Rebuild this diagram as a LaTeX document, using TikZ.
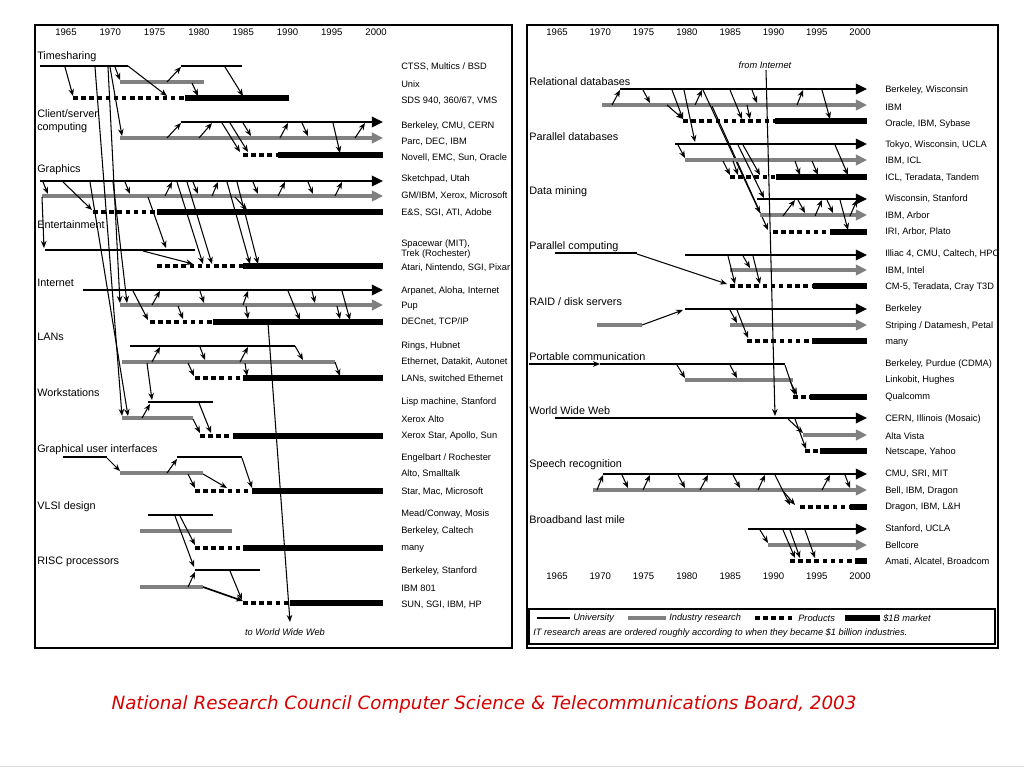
\documentclass[tikz,border=0pt]{standalone}
\usepackage{fontspec}
\setmainfont{Liberation Sans}
\newfontfamily\capfont{DejaVu Sans}
\usepackage{tikz}
\usetikzlibrary{arrows.meta,positioning}
\definecolor{trgray}{RGB}{128,128,128}
\definecolor{trred}{RGB}{215,0,0}
\tikzstyle{univ} = [line width=1.3pt, black]
\tikzstyle{indus} = [line width=2.2pt, trgray]
\tikzstyle{prod} = [line width=3.3pt, black, dash pattern=on 3.2pt off 2.6pt]
\tikzstyle{market} = [line width=4.6pt, black]
\tikzstyle{univtip} = [univ, -{Triangle[length=8pt,width=7.5pt]}]
\tikzstyle{industip} = [indus, -{Triangle[length=8pt,width=7.5pt]}]
\tikzstyle{lnk} = [->, >={Stealth[length=5pt,width=4pt]}, line width=0.75pt]
\tikzstyle{area} = [anchor=west, inner sep=0pt, align=left, font=\fontsize{7.7}{9}\selectfont]
\tikzstyle{who} = [anchor=west, inner sep=0pt, align=left, font=\fontsize{6.6}{7.6}\selectfont]
\tikzstyle{yr} = [inner sep=0pt, font=\fontsize{6.8}{7}\selectfont]
\tikzstyle{note} = [inner sep=0pt, font=\fontsize{6.6}{7}\selectfont\itshape]

\begin{document}
\begin{tikzpicture}[x=0.025cm, y=-0.025cm]
\useasboundingbox (0,0) rectangle (1024,768);
\fill[white] (0,0) rectangle (1024,768);
\draw[black!15] (0,766) -- (1024,766);

% Panels
\draw[line width=0.8pt] (35,25) rectangle (512,648);
\draw[line width=0.8pt] (527,25) rectangle (998,648);

% Years
\foreach \yr [count=\i from 0] in {1965,1970,...,2000} {
  \node[yr] (ly\yr) at ({66+\i*44.3},32) {\yr};
  \node[yr] (ry\yr) at ({557+\i*43.3},32) {\yr};
  \node[yr] (by\yr) at ({557+\i*43.3},576) {\yr};
}

% ---------------- left panel ----------------
% Area names
\node[area] (ts) at (37,57) {Timesharing};
\node[area] (cs) at (37,121) {Client/server\\computing};
\node[area] (gr) at (37,170) {Graphics};
\node[area] (en) at (37,225) {Entertainment};
\node[area] (in) at (37,283) {Internet};
\node[area] (ln) at (37,337) {LANs};
\node[area] (ws) at (37,393) {Workstations};
\node[area] (gu) at (37,450) {Graphical user interfaces};
\node[area] (vl) at (37,507) {VLSI design};
\node[area] (rs) at (37,562) {RISC processors};

% Who did it
\node[who] (tsU) at (401,67) {CTSS, Multics / BSD};
\node[who] (tsI) at (401,84) {Unix};
\node[who] (tsP) at (401,101) {SDS 940, 360/67, VMS};
\node[who] (csU) at (401,126) {Berkeley, CMU, CERN};
\node[who] (csI) at (401,142) {Parc, DEC, IBM};
\node[who] (csP) at (401,158) {Novell, EMC, Sun, Oracle};
\node[who] (grU) at (401,179) {Sketchpad, Utah};
\node[who] (grI) at (401,196) {GM/IBM, Xerox, Microsoft};
\node[who] (grP) at (401,213) {E\&S, SGI, ATI, Adobe};
\node[who] (enU) at (401,249) {Spacewar (MIT),\\Trek (Rochester)};
\node[who] (enP) at (401,268) {Atari, Nintendo, SGI, Pixar};
\node[who] (inU) at (401,291) {Arpanet, Aloha, Internet};
\node[who] (inI) at (401,306) {Pup};
\node[who] (inP) at (401,322) {DECnet, TCP/IP};
\node[who] (lnU) at (401,346) {Rings, Hubnet};
\node[who] (lnI) at (401,362) {Ethernet, Datakit, Autonet};
\node[who] (lnP) at (401,379) {LANs, switched Ethernet};
\node[who] (wsU) at (401,402) {Lisp machine, Stanford};
\node[who] (wsI) at (401,419) {Xerox Alto};
\node[who] (wsP) at (401,436) {Xerox Star, Apollo, Sun};
\node[who] (guU) at (401,458) {Engelbart / Rochester};
\node[who] (guI) at (401,474) {Alto, Smalltalk};
\node[who] (guP) at (401,492) {Star, Mac, Microsoft};
\node[who] (vlU) at (401,514) {Mead/Conway, Mosis};
\node[who] (vlI) at (401,531) {Berkeley, Caltech};
\node[who] (vlP) at (401,549) {many};
\node[who] (rsU) at (401,571) {Berkeley, Stanford};
\node[who] (rsI) at (401,588) {IBM 801};
\node[who] (rsP) at (401,605) {SUN, SGI, IBM, HP};
\node[note] (toweb) at (285,632) {to World Wide Web};

% Timesharing
\draw[univ] (40,66) -- (128,66);
\draw[univ] (181,66) -- (242,66);
\draw[indus] (120,82) -- (204,82);
\draw[prod] (73,98) -- (185,98);
\draw[market] (185,98) -- (289,98);
\draw[lnk] (65,67) -- (73,96);
\draw[lnk] (115,67) -- (120,80);
\draw[lnk] (128,66) -- (167,96);
\draw[lnk] (167,82) -- (181,67);
\draw[lnk] (192,83) -- (198,96);
\draw[lnk] (225,67) -- (243,96);

% Client/server
\draw[univtip] (181,122) -- (383,122);
\draw[industip] (120,138) -- (383,138);
\draw[prod] (243,155) -- (278,155);
\draw[market] (278,155) -- (383,155);
\draw[lnk] (167,138) -- (181,123);
\draw[lnk] (199,138) -- (212,123);
\draw[lnk] (222,123) -- (240,152);
\draw[lnk] (230,123) -- (248,152);
\draw[lnk] (243,123) -- (251,136);
\draw[lnk] (280,138) -- (288,123);
\draw[lnk] (302,123) -- (308,136);
\draw[lnk] (333,123) -- (340,153);
\draw[lnk] (355,138) -- (365,123);

% Graphics
\draw[univtip] (40,181) -- (383,181);
\draw[industip] (42,196) -- (383,196);
\draw[prod] (93,212) -- (157,212);
\draw[market] (157,212) -- (383,212);
\draw[lnk] (43,182) -- (48,194);
\draw[lnk] (63,182) -- (92,210);
\draw[lnk] (125,182) -- (130,194);
\draw[lnk] (165,196) -- (172,182);
\draw[lnk] (193,182) -- (198,194);
\draw[lnk] (212,196) -- (218,182);
\draw[lnk] (235,197) -- (247,210);
\draw[lnk] (253,182) -- (258,194);
\draw[lnk] (278,196) -- (285,182);
\draw[lnk] (308,182) -- (313,194);
\draw[lnk] (335,196) -- (342,182);

% Entertainment
\draw[univ] (45,250) -- (195,250);
\draw[prod] (157,266) -- (243,266);
\draw[market] (243,266) -- (383,266);
\draw[lnk] (42,197) -- (44,248);
\draw[lnk] (148,197) -- (166,248);
\draw[lnk] (143,251) -- (193,264);
\draw[lnk] (177,182) -- (203,264);
\draw[lnk] (187,182) -- (212,264);
\draw[lnk] (227,182) -- (250,264);
\draw[lnk] (237,182) -- (258,264);

% Internet
\draw[univtip] (83,290) -- (383,290);
\draw[industip] (120,305) -- (383,305);
\draw[prod] (150,322) -- (213,322);
\draw[market] (213,322) -- (383,322);
\draw[lnk] (133,291) -- (148,320);
\draw[lnk] (152,305) -- (160,291);
\draw[lnk] (200,291) -- (204,303);
\draw[lnk] (178,306) -- (183,319);
\draw[lnk] (243,305) -- (248,291);
\draw[lnk] (246,306) -- (248,319);
\draw[lnk] (288,291) -- (300,320);
\draw[lnk] (312,291) -- (315,303);
\draw[lnk] (337,306) -- (340,319);
\draw[lnk] (342,291) -- (350,320);

% LANs
\draw[univ] (130,346) -- (295,346);
\draw[indus] (122,362) -- (335,362);
\draw[prod] (195,378) -- (243,378);
\draw[market] (243,378) -- (383,378);
\draw[lnk] (295,346) -- (303,360);
\draw[lnk] (335,362) -- (340,376);
\draw[lnk] (152,362) -- (160,347);
\draw[lnk] (200,347) -- (205,360);
\draw[lnk] (240,362) -- (248,347);
\draw[lnk] (188,363) -- (194,376);
\draw[lnk] (245,363) -- (247,376);

% Workstations
\draw[univ] (148,402) -- (213,402);
\draw[indus] (122,418) -- (193,418);
\draw[prod] (200,436) -- (233,436);
\draw[market] (233,436) -- (383,436);
\draw[lnk] (147,363) -- (152,400);
\draw[lnk] (142,418) -- (150,404);
\draw[lnk] (199,403) -- (211,433);
\draw[lnk] (193,419) -- (200,433);

% Graphical user interfaces
\draw[univ] (63,457) -- (107,457);
\draw[univ] (177,457) -- (242,457);
\draw[indus] (120,473) -- (203,473);
\draw[prod] (195,491) -- (252,491);
\draw[market] (252,491) -- (383,491);
\draw[lnk] (107,458) -- (120,471);
\draw[lnk] (242,458) -- (252,488);
\draw[lnk] (167,473) -- (177,459);
\draw[lnk] (188,474) -- (195,488);
\draw[lnk] (203,474) -- (227,488);

% VLSI design
\draw[univ] (148,515) -- (213,515);
\draw[indus] (140,531) -- (232,531);
\draw[prod] (195,548) -- (243,548);
\draw[market] (243,548) -- (383,548);
\draw[lnk] (180,516) -- (195,545);
\draw[lnk] (175,516) -- (194,567);

% RISC processors
\draw[univ] (195,570) -- (260,570);
\draw[indus] (140,587) -- (203,587);
\draw[prod] (243,603) -- (290,603);
\draw[market] (290,603) -- (383,603);
\draw[lnk] (188,587) -- (195,572);
\draw[lnk, line width=1.2pt] (203,587) -- (243,601);
\draw[lnk] (230,571) -- (242,600);

% Long links
\draw[lnk] (95,67) -- (122,416);
\draw[lnk] (108,67) -- (120,303);
\draw[lnk] (110,67) -- (122,136);
\draw[lnk] (90,182) -- (128,416);
\draw[lnk] (113,182) -- (127,303);
\draw[lnk] (268,323) -- (290,622);

% ---------------- right panel ----------------
% Area names
\node[area] (rd) at (529,82) {Relational databases};
\node[area] (pd) at (529,137) {Parallel databases};
\node[area] (dm) at (529,192) {Data mining};
\node[area] (pc) at (529,247) {Parallel computing};
\node[area] (rv) at (529,302) {RAID / disk servers};
\node[area] (pt) at (529,357) {Portable communication};
\node[area] (ww) at (529,411) {World Wide Web};
\node[area] (sp) at (529,465) {Speech recognition};
\node[area] (bb) at (529,520) {Broadband last mile};

% Who did it
\node[who] (rdU) at (885,90) {Berkeley, Wisconsin};
\node[who] (rdI) at (885,107) {IBM};
\node[who] (rdP) at (885,124) {Oracle, IBM, Sybase};
\node[who] (pdU) at (885,145) {Tokyo, Wisconsin, UCLA};
\node[who] (pdI) at (885,161) {IBM, ICL};
\node[who] (pdP) at (885,178) {ICL, Teradata, Tandem};
\node[who] (dmU) at (885,199) {Wisconsin, Stanford};
\node[who] (dmI) at (885,216) {IBM, Arbor};
\node[who] (dmP) at (885,232) {IRI, Arbor, Plato};
\node[who] (pcU) at (885,254) {Illiac 4, CMU, Caltech, HPC};
\node[who] (pcI) at (885,271) {IBM, Intel};
\node[who] (pcP) at (885,287) {CM-5, Teradata, Cray T3D};
\node[who] (rvU) at (885,309) {Berkeley};
\node[who] (rvI) at (885,326) {Striping / Datamesh, Petal};
\node[who] (rvP) at (885,343) {many};
\node[who] (ptU) at (885,364) {Berkeley, Purdue (CDMA)};
\node[who] (ptI) at (885,380) {Linkobit, Hughes};
\node[who] (ptP) at (885,397) {Qualcomm};
\node[who] (wwU) at (885,419) {CERN, Illinois (Mosaic)};
\node[who] (wwI) at (885,436) {Alta Vista};
\node[who] (wwP) at (885,452) {Netscape, Yahoo};
\node[who] (spU) at (885,474) {CMU, SRI, MIT};
\node[who] (spI) at (885,491) {Bell, IBM, Dragon};
\node[who] (spP) at (885,507) {Dragon, IBM, L\&H};
\node[who] (bbU) at (885,529) {Stanford, UCLA};
\node[who] (bbI) at (885,545) {Bellcore};
\node[who] (bbP) at (885,562) {Amati, Alcatel, Broadcom};
\node[note] (fromnet) at (765,65) {from Internet};

% Relational databases
\draw[univtip] (620,89) -- (867,89);
\draw[industip] (602,105) -- (867,105);
\draw[prod] (683,121) -- (775,121);
\draw[market] (775,121) -- (867,121);
\draw[lnk] (612,105) -- (620,90);
\draw[lnk] (643,90) -- (650,103);
\draw[lnk] (667,105) -- (683,119);
\draw[lnk] (672,90) -- (683,119);
\draw[lnk] (684,90) -- (695,142);
\draw[lnk] (695,105) -- (702,90);
\draw[lnk] (730,90) -- (742,119);
\draw[lnk] (752,90) -- (757,103);
\draw[lnk] (747,105) -- (750,119);
\draw[lnk] (797,105) -- (803,90);
\draw[lnk] (822,90) -- (830,119);
\draw[lnk] (703,90) -- (760,213);
\draw[lnk] (712,106) -- (768,230);

% Parallel databases
\draw[univtip] (675,144) -- (867,144);
\draw[industip] (685,160) -- (867,160);
\draw[prod] (730,177) -- (776,177);
\draw[market] (776,177) -- (867,177);
\draw[lnk] (678,145) -- (685,158);
\draw[lnk] (723,161) -- (730,175);
\draw[lnk] (733,161) -- (738,175);
\draw[lnk] (743,145) -- (760,175);
\draw[lnk] (795,161) -- (800,175);
\draw[lnk] (812,161) -- (818,175);
\draw[lnk] (835,145) -- (848,175);
\draw[lnk] (738,145) -- (764,198);

% Data mining
\draw[univtip] (757,199) -- (867,199);
\draw[industip] (760,215) -- (867,215);
\draw[prod] (773,232) -- (830,232);
\draw[market] (830,232) -- (867,232);
\draw[lnk] (783,216) -- (795,200);
\draw[lnk] (798,200) -- (805,213);
\draw[lnk] (815,216) -- (822,200);
\draw[lnk] (827,200) -- (833,213);
\draw[lnk] (840,200) -- (848,230);
\draw[lnk] (850,216) -- (857,200);

% Parallel computing
\draw[univ] (555,253) -- (637,253);
\draw[univtip] (685,255) -- (867,255);
\draw[industip] (730,270) -- (867,270);
\draw[prod] (730,286) -- (813,286);
\draw[market] (813,286) -- (867,286);
\draw[lnk] (637,254) -- (727,284);
\draw[lnk] (728,256) -- (735,284);
\draw[lnk] (743,256) -- (750,268);
\draw[lnk] (753,256) -- (760,284);

% RAID / disk servers
\draw[univtip] (685,309) -- (867,309);
\draw[indus] (597,325) -- (642,325);
\draw[industip] (730,325) -- (867,325);
\draw[prod] (747,341) -- (812,341);
\draw[market] (812,341) -- (867,341);
\draw[lnk] (642,325) -- (683,310);
\draw[lnk] (730,310) -- (737,323);
\draw[lnk] (737,310) -- (748,338);

% Portable communication
\draw[lnk] (529,364) -- (600,364);
\draw[univ] (600,364) -- (785,364);
\draw[indus] (685,380) -- (793,380);
\draw[prod] (793,397) -- (810,397);
\draw[market] (810,397) -- (867,397);
\draw[lnk] (677,365) -- (685,378);
\draw[lnk] (730,365) -- (737,378);
\draw[lnk] (785,365) -- (795,395);
\draw[lnk] (790,381) -- (797,395);

% World Wide Web
\draw[univtip] (555,418) -- (867,418);
\draw[industip] (803,435) -- (867,435);
\draw[prod] (805,451) -- (820,451);
\draw[market] (820,451) -- (867,451);
\draw[lnk] (788,419) -- (803,433);
\draw[lnk] (795,419) -- (806,449);
\draw[lnk] (766,70) -- (775,416);

% Speech recognition
\draw[univtip] (603,474) -- (867,474);
\draw[industip] (593,490) -- (867,490);
\draw[prod] (800,507) -- (850,507);
\draw[market] (850,507) -- (867,507);
\draw[lnk] (597,490) -- (603,475);
\draw[lnk] (622,475) -- (628,488);
\draw[lnk] (643,490) -- (650,475);
\draw[lnk] (678,475) -- (685,488);
\draw[lnk] (700,490) -- (708,475);
\draw[lnk] (733,475) -- (740,488);
\draw[lnk] (758,490) -- (765,475);
\draw[lnk] (775,475) -- (790,505);
\draw[lnk] (783,491) -- (795,505);
\draw[lnk] (822,490) -- (830,475);
\draw[lnk] (845,475) -- (850,488);

% Broadband last mile
\draw[univtip] (748,529) -- (867,529);
\draw[industip] (768,545) -- (867,545);
\draw[prod] (790,561) -- (855,561);
\draw[market] (855,561) -- (867,561);
\draw[lnk] (760,530) -- (768,543);
\draw[lnk] (783,530) -- (795,558);
\draw[lnk] (790,530) -- (800,558);
\draw[lnk] (805,530) -- (815,558);

% Legend
\draw[line width=0.8pt] (529,609) rectangle (995,644);
\draw[univ] (537,618) -- (570,618);
\node[note, anchor=west] (lgU) at (573,618) {University};
\draw[indus] (628,618) -- (666,618);
\node[note, anchor=west] (lgI) at (669,618) {Industry research};
\draw[prod] (755,618) -- (795,618);
\node[note, anchor=west] (lgP) at (798,618) {Products};
\draw[market] (845,618) -- (880,618);
\node[note, anchor=west] (lgM) at (883,618) {\$1B market};
\node[note, anchor=west] (lgN) at (533,633) {IT research areas are ordered roughly according to when they became \$1 billion industries.};

% Caption
\node[inner sep=0pt, text=trred, font=\capfont\itshape\fontsize{13}{15}\selectfont] (cap) at (484,704) {National Research Council Computer Science \& Telecommunications Board, 2003};
\end{tikzpicture}
\end{document}
